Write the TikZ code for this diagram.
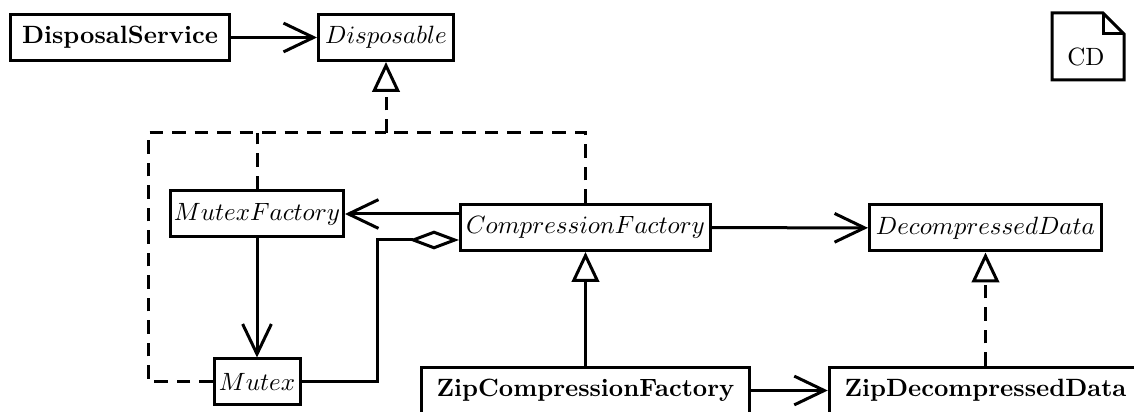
\documentclass[tikz,border=0pt]{standalone}
\usetikzlibrary{arrows.meta}
\begin{document}
\begin{tikzpicture}[x=0.4pt,y=-0.4pt,
  cls/.style={draw,line width=1.2pt,minimum height=18.4pt,inner sep=0pt},
  conn/.style={line width=1.2pt},
  assoc/.style={conn,-{Straight Barb[length=12pt,width=11.5pt]}},
  real/.style={conn,dash pattern=on 5.4pt off 3.6pt},
  gentip/.style={-{Triangle[open,length=12pt,width=11pt]}},
  aggr/.style={conn,{Diamond[open,length=20pt,width=7.5pt]}-}]
\useasboundingbox (0,0) rectangle (1134,412);
\clip (0,0) rectangle (1134,412);
% classes
\node[cls,minimum width=87.6pt] (ds) at (120,37.5) {\textbf{DisposalService}};
\node[cls,minimum width=54pt] (dis) at (386,37.5) {$Disposable$};
\node[cls,minimum width=69.2pt] (mf) at (257,214) {$MutexFactory$};
\node[cls,minimum width=100pt] (cf) at (585.5,227.5) {$CompressionFactory$};
\node[cls,minimum width=92.8pt] (dd) at (985.5,228) {$DecompressedData$};
\node[cls,minimum width=34.4pt] (mx) at (257,382) {$Mutex$};
\node[cls,minimum width=131.2pt] (zcf) at (585.5,390.5) {\textbf{ZipCompressionFactory}};
\node[cls,minimum width=125pt] (zdd) at (985.5,390.5) {\textbf{ZipDecompressedData}};
% note
\draw[conn] (1052,13) -- (1103,13) -- (1124,34) -- (1124,80) -- (1052,80) -- cycle;
\draw[conn] (1103,13) -- (1103,34) -- (1124,34);
\node (cd) at (1086,57) {CD};
% connectors
\coordinate (j) at (386,133);
\coordinate (lc) at (148,133);
\coordinate (ag) at (377,240);
\draw[assoc] (ds) -- (dis);
\draw[real] (mx.west) -| (lc) -- (j);
\draw[real] (mf.north) -- (mf.north |- j);
\draw[real] (cf.north) |- (j);
\draw[real,gentip] (j) -- (dis.south);
\draw[assoc] (cf.west |- mf.east) -- (mf.east);
\draw[aggr] (cf.west |- ag) -- (ag) |- (mx.east);
\draw[assoc] (mf) -- (mx);
\draw[assoc] (cf) -- (dd);
\draw[conn,gentip] (zcf) -- (cf);
\draw[assoc] (zcf) -- (zdd);
\draw[real,gentip] (zdd) -- (dd);
\end{tikzpicture}
\end{document}
